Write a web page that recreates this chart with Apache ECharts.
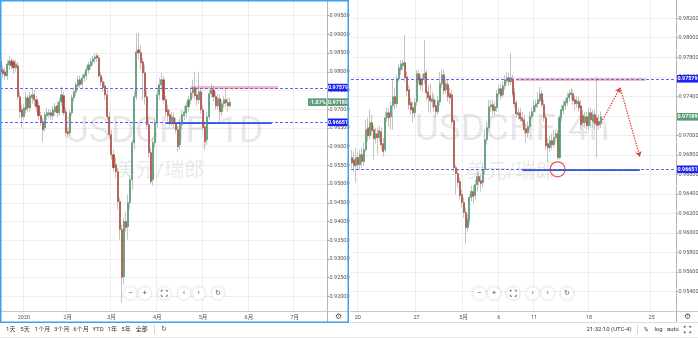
<!DOCTYPE html>
<html><head><meta charset="utf-8">
<script src="https://cdn.jsdelivr.net/npm/echarts@6/dist/echarts.min.js"></script>
<style>html,body{margin:0;padding:0;background:#fff;overflow:hidden}#c{width:698px;height:338px}</style>
</head><body><div id="c"></div><script>
// ---------- DATA (prices ×1e-5, rows = [open, close, low, high]) ----------
const dailyOHLC = [
[98266,97999,97892,98399],[98052,97946,97839,98159],[97999,97892,97786,98106],[97892,98212,97786,98319],
[98186,98292,98052,98426],[98292,98159,98052,98372],[98266,98106,97946,98346],[98106,98212,97999,98319],
[98159,97332,97252,98266],[97332,96932,96772,97466],[96986,96799,96506,97119],[96799,97039,96719,97146],
[96986,97306,96879,97466],[97306,97039,96932,97386],[97039,97359,96932,97466],[97306,97386,97146,97572],
[97386,97252,97092,97519],[97252,97066,96932,97359],[97092,96826,96719,97199],[96826,96666,96559,96932],
[96666,96452,96132,96772],[96506,96852,96399,96932],[96826,96906,96719,97039],[96852,96906,96772,97012],
[96906,96826,96719,96986],[96826,96986,96719,97092],[96932,97066,96826,97172],[97092,96906,96772,97199],
[96906,97199,96826,97306],[97199,97386,97092,97599],[97359,96906,96826,97466],[96932,96372,96266,97039],
[96399,96346,96239,96506],[96372,96906,96292,96986],[96906,97306,96826,97386],[97306,97466,97199,97572],
[97466,97652,97359,97732],[97626,97786,97519,97892],[97786,97652,97572,97892],[97679,97839,97572,97946],
[97839,97919,97732,97999],[97892,98052,97786,98159],[98052,98186,97946,98266],[98159,98266,98052,98372],
[98266,98346,98159,98426],[98346,98399,98239,98479],[98426,98372,98266,98506],[98372,97892,97839,98452],
[97892,97732,97626,97999],[97732,97572,97466,97839],[97626,97386,97252,97732],[97386,96799,96719,97519],
[96799,96319,96186,96932],[96319,95786,95652,96452],[95786,95439,95332,95919],[95519,95332,95172,95706],
[95332,94532,94319,95439],[94532,93786,93519,94639],[93786,92506,91839,93919],[92532,93999,92319,94106],
[93999,93839,93732,94266],[93866,94506,93519,94719],[94506,95119,94319,95252],[95119,96106,94852,96186],
[96106,97332,95919,97466],[97332,98532,97252,99039],[98586,98506,98319,99039],[98506,98239,98052,98719],
[98266,97972,97252,98372],[97972,97332,97119,98186],[97332,96586,96452,97519],[96586,95839,95706,96772],
[95839,95066,95012,95972],[95119,96106,94959,96239],[96106,96639,95972,96772],[96639,97386,96506,97519],
[97386,97652,97252,97839],[97652,97786,97519,97972],[97786,97252,97146,97892],[97252,96932,96772,97359],
[96986,96826,96666,97119],[96852,96666,96559,96986],[96666,96799,96559,96932],[96772,96612,96506,96906],
[96612,96452,96346,96772],[96452,95999,95866,96559],[96052,96586,95919,96719],[96586,96852,96452,96986],
[96826,96932,96719,97092],[96906,97092,96772,97199],[97066,97252,96932,97359],[97252,97439,97146,97572],
[97439,97572,97306,97786],[97572,97359,97252,97999],[97386,97252,97092,97572],[97252,97466,97146,97972],
[97466,96986,96879,97572],[96986,96506,96399,97119],[96532,96132,95919,96666],[96186,96799,96052,96932],
[96799,97412,96719,97519],[97412,97519,97306,97679],[97519,97332,97199,97626],[97332,97092,96986,97466],
[97092,97279,96986,97412],[97279,96932,96666,97386],[96932,97146,96826,97252],[97146,97252,97039,97359],
[97252,97172,97039,97572],[97172,97092,96932,97306],[97092,97189,97039,97306]
];
const h4OHLC = [
[96771,96719,96668,96852],[96750,96689,96627,96832],[96689,96771,96515,96873],[96771,96699,96648,96832],
[96699,96801,96648,96852],[96801,96730,96668,96873],[96730,96852,96689,96924],[96852,97057,96832,97159],
[97078,96996,96934,97180],[96996,97129,96955,97262],[97129,97047,97006,97211],[97057,96965,96750,97108],
[96965,97016,96914,97078],[97016,96975,96801,97078],[96975,97047,96934,97098],[97037,96904,96852,97078],
[96914,96832,96781,96975],[96852,97180,96822,97241],[97180,97231,97139,97282],[97231,97180,97088,97282],
[97190,97303,97057,97344],[97303,97395,97057,97569],[97395,97323,97262,97487],[97323,97579,97282,97620],
[97579,97691,97548,97732],[97671,97732,97620,97773],[97712,97743,97671,97773],[97743,97589,97548,98029],
[97599,97456,97405,97650],[97466,97313,97262,97517],[97333,97262,97211,97384],[97282,97231,97129,97344],
[97231,97333,97180,97384],[97344,97630,97303,97671],[97630,97569,97528,97671],[97579,97517,97466,97620],
[97517,97579,97446,97630],[97579,97630,97528,97978],[97640,97436,97364,97671],[97446,97384,97241,97507],
[97405,97354,97231,97528],[97344,97374,97282,97446],[97364,97292,97241,97415],[97303,97241,97180,97364],
[97241,97354,97211,97405],[97344,97528,97303,97650],[97528,97620,97487,97671],[97620,97456,97415,97671],
[97466,97528,97425,97569],[97517,97395,97344,97569],[97425,97384,97323,97487],[97415,97139,97108,97466],
[97149,96668,96627,97180],[96668,96607,96392,96699],[96607,96515,96464,96648],[96525,96382,96341,96566],
[96392,96310,96259,96443],[96310,96208,96157,96361],[96208,96055,95881,96259],[96055,96136,96014,96187],
[96136,96361,96085,96392],[96361,96423,96321,96484],[96423,96372,96290,96484],[96382,96494,96341,96546],
[96494,96576,96423,96627],[96576,96525,96484,96627],[96535,96505,96423,96597],[96515,96648,96464,96699],
[96648,96955,96597,97057],[96955,97078,96904,97139],[97078,97292,97037,97364],[97292,97313,97241,97364],
[97313,97251,97211,97364],[97251,97292,97211,97344],[97282,97425,97241,97466],[97425,97477,97384,97517],
[97477,97405,97364,97528],[97415,97507,97384,97548],[97507,97569,97466,97620],[97558,97589,97528,97650],
[97589,97548,97507,97640],[97548,97589,97517,97845],[97579,97425,97395,97620],[97436,97323,97282,97487],
[97333,97221,97180,97364],[97211,97231,97159,97282],[97231,97170,97139,97282],[97180,97149,97098,97241],
[97159,97057,97016,97211],[97067,97026,96924,97118],[97026,97088,96975,97139],[97088,97190,97057,97241],
[97190,97241,97159,97282],[97241,97303,97200,97364],[97292,97323,97241,97364],[97323,97364,97282,97446],
[97354,97425,97323,97497],[97425,97313,97282,97466],[97313,97180,97139,97364],[97180,96893,96852,97221],
[96914,96873,96730,96975],[96873,96945,96832,96996],[96945,96904,96852,97016],[96904,96975,96873,97057],
[96975,97016,96955,97057],[97016,96771,96750,97057],[96771,97180,96750,97211],[97180,97262,97139,97313],
[97251,97303,97211,97364],[97303,97344,97262,97384],[97333,97384,97303,97436],[97384,97425,97344,97466],
[97415,97436,97364,97487],[97425,97354,97313,97466],[97364,97323,97262,97405],[97323,97354,97282,97405],
[97344,97282,97241,97395],[97303,97108,97057,97364],[97200,97129,97088,97262],[97129,97190,97078,97241],
[97190,97098,97057,97241],[97098,97231,97057,97282],[97231,97159,97078,97282],[97139,97211,97078,97262],
[97211,97118,97057,97262],[97180,97098,96771,97599],[97139,97108,97057,97211],[97118,97189,97078,97241]
];
const priceScale = 1e5;
const dailySlots = 157;                       // daily category slots (incl. future)
const dailyTickIdx = [11, 32, 53, 75, 97, 119, 141];
const dailyTickLabels = ['2020', '2月', '3月', '4月', '5月', '6月', '7月'];
const dailyPriceTicks = [0.920, 0.925, 0.930, 0.935, 0.940, 0.945, 0.950, 0.955, 0.960, 0.965, 0.970, 0.975, 0.980, 0.985, 0.990, 0.995];
const dailyRange = [0.91608, 0.99919];
const h4Slots = 166;
const h4TickIdx = [3, 33, 57, 75, 93, 121, 153];
const h4TickLabels = ['20', '27', '5月', '6', '11', '18', '25'];
const h4PriceTicks = [0.954, 0.956, 0.958, 0.960, 0.962, 0.964, 0.966, 0.968, 0.970, 0.972, 0.974, 0.976, 0.978, 0.980, 0.982];
const h4Range = [0.95198, 0.98387];
const resistance = 0.97579;
const support = 0.96651;
const lastPrice = 0.97189;
const changePct = '-1.07%';
const dailyResistSpan = [91, 133];
const dailySupportSpan = [79, 130];
const h4ResistSpan = [84, 150];
const h4SupportSpan = [87, 147];
const h4CircleIdx = 105;
const h4ArrowPath = [[128, 0.97159], [137, 0.97487], [147, 0.96781]];
const symbolName = 'USDCHF';
const symbolCN = '美元/瑞郎';
const rangeButtons = ['1天', '5天', '1个月', '3个月', '6个月', 'YTD', '1年', '5年', '全部'];
const clockText = '21:32:10 (UTC-4)';

// ---------- BUILD ----------
const UP = '#4f9a6c', DOWN = '#b4473b', WICK = '#c4c4c4';
const FONT = 'Roboto, "Noto Sans CJK SC", sans-serif';
const daily = dailyOHLC.map(r => r.map(v => v / priceScale));
const h4 = h4OHLC.map(r => r.map(v => v / priceScale));
const bodies = arr => arr.map(([o, c]) => [o, c, Math.min(o, c), Math.max(o, c)]);

function xAxisCfg(gridIndex, n, idx, labels) {
  return {
    type: 'category', gridIndex, boundaryGap: true,
    data: Array.from({length: n}, (_, i) => 's' + i),
    axisLine: {show: false}, axisTick: {show: false},
    axisLabel: {interval: 0, margin: 4, fontSize: 5.5, color: '#555', fontFamily: FONT,
      formatter: (v, i) => { const k = idx.indexOf(i); return k >= 0 ? labels[k] : ''; }},
    splitLine: {show: true, interval: (i) => idx.indexOf(i) >= 0, lineStyle: {color: '#eeeeee', width: 1}}
  };
}
function yAxisCfg(gridIndex, range, ticks) {
  return {
    type: 'value', gridIndex, position: 'right', min: range[0], max: range[1],
    axisLine: {show: false},
    axisTick: {show: true, length: 2, lineStyle: {color: '#999'}, customValues: ticks},
    axisLabel: {customValues: ticks, fontSize: 5.5, color: '#555', margin: 2.5, fontFamily: FONT,
      formatter: v => v.toFixed(5)},
    splitLine: {show: true, lineStyle: {color: '#eeeeee', width: 1}}
  };
}
function segments(resSpan, supSpan) {
  const pink = {color: 'rgba(240,120,120,0.5)', width: 3, type: 'solid'};
  const blue = {color: '#2f5fdc', width: 2.2, type: 'solid'};
  return [
    [{coord: [resSpan[0], resistance], lineStyle: pink, label: {show: false}},
     {coord: [resSpan[1], resistance], lineStyle: pink, label: {show: false}}],
    [{coord: [supSpan[0], support], lineStyle: blue, label: {show: false}},
     {coord: [supSpan[1], support], lineStyle: blue, label: {show: false}}]
  ];
}
function candlePair(axisIdx, data, extraMark) {
  return [
    {type: 'candlestick', xAxisIndex: axisIdx, yAxisIndex: axisIdx, data, barWidth: '78%', z: 2,
      itemStyle: {color: WICK, color0: WICK, borderColor: WICK, borderColor0: WICK, borderWidth: 1},
      markLine: {silent: true, symbol: 'none', animation: false, z: 3, data: extraMark}},
    {type: 'candlestick', xAxisIndex: axisIdx, yAxisIndex: axisIdx, data: bodies(data), barWidth: '78%', z: 3,
      itemStyle: {color: UP, color0: DOWN, borderColor: UP, borderColor0: DOWN, borderWidth: 0.5}}
  ];
}
const arrowStyle = {type: 'dotted', color: '#e03a30', width: 1.3};
const arrowLines = [];
for (let k = 0; k + 1 < h4ArrowPath.length; k++) {
  arrowLines.push([
    {coord: h4ArrowPath[k], symbol: 'none', lineStyle: arrowStyle, label: {show: false}},
    {coord: h4ArrowPath[k + 1], symbol: 'arrow', symbolSize: 5, lineStyle: arrowStyle, label: {show: false}, itemStyle: {color: '#e03a30'}}
  ]);
}

const chart = echarts.init(document.getElementById('c'), null, {renderer: 'canvas'});
chart.setOption({
  animation: false,
  textStyle: {fontFamily: FONT},
  grid: [
    {left: 0, top: 0, width: 327, height: 311, outerBoundsMode: 'none', containLabel: false},
    {left: 351, top: 0, width: 325, height: 311, outerBoundsMode: 'none', containLabel: false}
  ],
  xAxis: [xAxisCfg(0, dailySlots, dailyTickIdx, dailyTickLabels), xAxisCfg(1, h4Slots, h4TickIdx, h4TickLabels)],
  yAxis: [yAxisCfg(0, dailyRange, dailyPriceTicks), yAxisCfg(1, h4Range, h4PriceTicks)],
  series: [
    ...candlePair(0, daily, segments(dailyResistSpan, dailySupportSpan)),
    ...candlePair(1, h4, segments(h4ResistSpan, h4SupportSpan)),
    {type: 'scatter', xAxisIndex: 1, yAxisIndex: 1, data: [[h4CircleIdx, support]], symbol: 'circle', symbolSize: 15, z: 6,
      itemStyle: {color: 'rgba(0,0,0,0)', borderColor: '#d8312a', borderWidth: 1.2}, silent: true,
      markLine: {silent: true, symbol: 'none', animation: false, data: arrowLines}}
  ]
});

// ---------- decorations ----------
const G = [];
const txt = (x, y, text, size, fill, extra) => G.push(Object.assign({type: 'text', x, y, silent: true, z: 20,
  style: {text, fontSize: size, fontFamily: FONT, fill, align: 'center', verticalAlign: 'middle'}}, extra || {}));
const line = (x1, y1, x2, y2, stroke, w, z, dash) => G.push({type: 'line', silent: true, z: z || 20,
  shape: {x1, y1, x2, y2}, style: {stroke, lineWidth: w, lineDash: dash || null}});
function corners(cx, cy, h, stroke) {
  const s = h * 0.55;
  [[-1, -1], [1, -1], [-1, 1], [1, 1]].forEach(([sx, sy]) => G.push({type: 'polyline', silent: true, z: 21,
    shape: {points: [[cx + sx * h, cy + sy * (h - s)], [cx + sx * h, cy + sy * h], [cx + sx * (h - s), cy + sy * h]]},
    style: {stroke, lineWidth: 0.8, fill: null}}));
}
function badgeG(x, y, w, bg, text) {
  G.push({type: 'rect', silent: true, z: 24, shape: {x, y: y - 3.8, width: w, height: 7.6}, style: {fill: bg}});
  G.push({type: 'text', silent: true, z: 25, x: x + w / 2, y: y + 0.3,
    style: {text, fontSize: 5.4, fontFamily: FONT, fontWeight: 'bold', fill: '#fff', align: 'center', verticalAlign: 'middle'}});
}
// dashed level lines + price badges (y from the library's scale)
[[0, 0, 327, 328, 20], [1, 351, 676, 677, 21]].forEach(([ai, x0, x1, bx, bw]) => {
  const py = v => chart.convertToPixel({yAxisIndex: ai}, v);
  [resistance, support].forEach(v => {
    const y = Math.round(py(v)) + 0.5;
    line(x0, y, x1, y, '#6262f8', 1, 4, [3, 2]);
    badgeG(bx, py(v), bw, '#1c22f0', v.toFixed(5));
  });
  badgeG(bx, py(lastPrice), bw, '#5a9c76', lastPrice.toFixed(5));
});
const yLast = chart.convertToPixel({yAxisIndex: 0}, lastPrice);
badgeG(308, yLast, 18.5, '#5a9c76', changePct);
// watermarks
txt(164, 133, symbolName + ', 1D', 37, 'rgba(0,0,0,0.09)', {z: 1});
txt(160, 172, symbolCN, 20, 'rgba(0,0,0,0.09)', {z: 1});
txt(512, 131, symbolName + ', 4h', 37, 'rgba(0,0,0,0.09)', {z: 1});
txt(511, 173, symbolCN, 20, 'rgba(0,0,0,0.09)', {z: 1});
// axis frame lines
line(0, 311.5, 348, 311.5, '#c9c9c9', 1);
line(350, 311.5, 698, 311.5, '#c9c9c9', 1);
line(327.5, 0, 327.5, 322, '#b5b5b5', 1);
line(676.5, 0, 676.5, 322, '#b5b5b5', 1);
line(350, 322.5, 698, 322.5, '#dcdcdc', 1);
line(0, 337.5, 698, 337.5, '#e6e6e6', 1);
// selected-panel border
G.push({type: 'rect', silent: true, z: 26, shape: {x: 0.75, y: 0.75, width: 347.5, height: 321.5},
  style: {fill: null, stroke: '#3fa0f0', lineWidth: 1.5}});
// gear icons
txt(338, 317, '⚙', 7.5, '#555');
txt(687, 317, '⚙', 7.5, '#555');
// nav buttons
function nav(xs, y) {
  const glyph = ['−', '+', null, '‹', '›', '↻'];
  xs.forEach((x, k) => {
    G.push({type: 'circle', silent: true, z: 20, shape: {cx: x, cy: y, r: 6.3},
      style: {fill: '#fff', shadowBlur: 3, shadowColor: 'rgba(0,0,0,0.22)'}});
    if (glyph[k]) txt(x, y + (k === 3 || k === 4 ? -0.5 : 0), glyph[k], k === 5 ? 7 : 8, '#555', {z: 21});
    else corners(x, y, 3, '#555');
  });
}
nav([130.5, 144.8, 164.3, 184, 198.7, 218], 293.3);
nav([479.3, 494, 513.3, 532.7, 547.7, 567], 293.3);
// bottom toolbar
const btnX = [10.7, 25, 42.5, 61.7, 81, 98, 112.3, 126, 141.7];
rangeButtons.forEach((b, k) => txt(btnX[k], 329.5, b, 6, '#333'));
line(154.5, 325, 154.5, 334, '#d5d5d5', 1);
txt(163.5, 329.5, '↻', 7, '#444');
txt(609, 329.5, clockText, 6, '#333');
line(637.5, 325, 637.5, 334, '#d5d5d5', 1);
txt(646, 329.5, '%', 6, '#333');
txt(658.5, 329.5, 'log', 6, '#333');
txt(673, 329.5, 'auto', 6, '#333');
corners(687.5, 329.5, 3.2, '#444');

chart.setOption({graphic: {elements: G}});
</script></body></html>
